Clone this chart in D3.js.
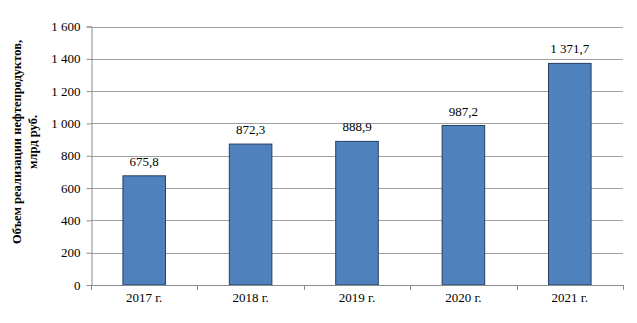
<!DOCTYPE html>
<html><head><meta charset="utf-8">
<script src="https://cdn.jsdelivr.net/npm/d3@7"></script>
<style>body{margin:0;background:#fff}svg{display:block}svg text{font-family:'Liberation Serif','Times New Roman',serif !important}</style>
</head><body>
<svg id="c" width="637" height="323"></svg>
<script>
const categories = ["2017 г.","2018 г.","2019 г.","2020 г.","2021 г."];
const values = [675.8, 872.3, 888.9, 987.2, 1371.7];
const labels = ["675,8","872,3","888,9","987,2","1 371,7"];
const yTicks = [0,200,400,600,800,1000,1200,1400,1600];
const yTickLabels = ["0","200","400","600","800","1 000","1 200","1 400","1 600"];
const yTitle = ["Объем реализации нефтепродуктов,","млрд руб."];

const FF = "'Liberation Serif','Times New Roman',serif";
const svg = d3.select("#c");
const L = 91, R = 623, T = 26.5, B = 285;
const x = d3.scaleBand().domain(categories).range([L,R]).paddingInner(0.6).paddingOuter(0.3);
const y = d3.scaleLinear().domain([0,1600]).range([B,T]);

svg.append("g").selectAll("line").data(yTicks.filter(d=>d>0)).join("line")
  .attr("x1",L).attr("x2",R).attr("y1",d=>Math.round(y(d))+0.5).attr("y2",d=>Math.round(y(d))+0.5)
  .attr("stroke","#a0a0a0").attr("stroke-width",1);

svg.append("g").selectAll("rect").data(values).join("rect")
  .attr("x",(d,i)=>x(categories[i])).attr("width",x.bandwidth())
  .attr("y",d=>y(d)).attr("height",d=>B-y(d))
  .attr("fill","#4F81BD").attr("stroke","#263f63").attr("stroke-width",1);

svg.append("g").selectAll("text").data(values).join("text")
  .attr("x",(d,i)=>x(categories[i])+x.bandwidth()/2).attr("y",d=>y(d)-10)
  .attr("text-anchor","middle").style("font-size","13px").style("font-family",FF).attr("fill","#000")
  .text((d,i)=>labels[i]);

const ya = d3.axisLeft(y).tickValues(yTicks).tickSize(5).tickPadding(6)
  .tickFormat((d,i)=>yTickLabels[i]);
const gy = svg.append("g").attr("transform",`translate(${L+0.5},0)`).call(ya).attr("font-family",null).attr("font-size",null);
gy.selectAll("path,line").attr("stroke","#8c8c8c");
gy.selectAll("text").style("font-size","13px").style("font-family",FF).attr("fill","#000");

const bounds = d3.range(categories.length+1).map(i=>L+i*(R-L)/categories.length);
svg.append("line").attr("x1",L).attr("x2",R).attr("y1",B+0.5).attr("y2",B+0.5).attr("stroke","#8c8c8c");
svg.append("g").selectAll("line").data(bounds).join("line")
  .attr("x1",d=>Math.round(d)+0.5).attr("x2",d=>Math.round(d)+0.5).attr("y1",B).attr("y2",B+5)
  .attr("stroke","#8c8c8c");
svg.append("g").selectAll("text").data(categories).join("text")
  .attr("x",d=>x(d)+x.bandwidth()/2).attr("y",B+17)
  .attr("text-anchor","middle").style("font-size","13px").style("font-family",FF).attr("fill","#000").text(d=>d);

const yt = svg.append("text").attr("transform",`translate(21,142) rotate(-90)`)
  .attr("text-anchor","middle").style("font-size","12.5px").style("font-family",FF).attr("font-weight","bold");
yt.selectAll("tspan").data(yTitle).join("tspan").attr("x",0).attr("dy",(d,i)=>i?16:0).text(d=>d);
</script>
</body></html>
